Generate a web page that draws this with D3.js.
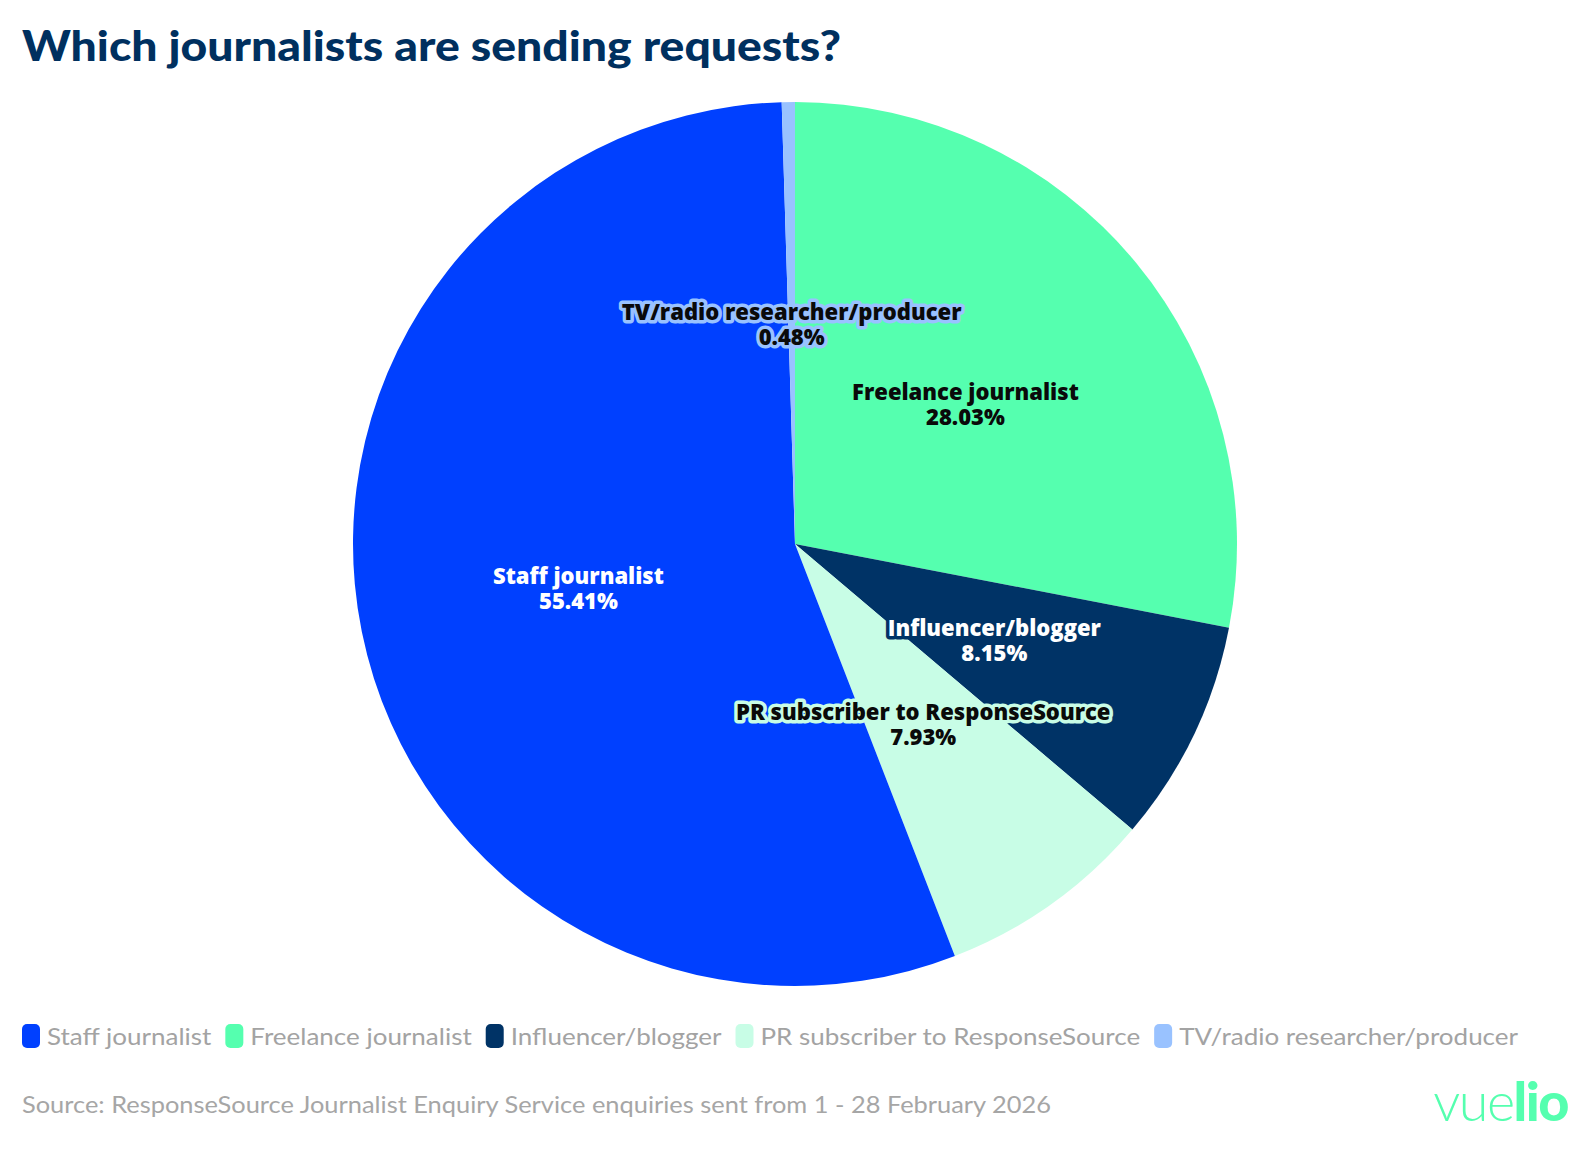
<!DOCTYPE html>
<html><head><meta charset="utf-8">
<script src="https://cdn.jsdelivr.net/npm/d3@7/dist/d3.min.js"></script>
<style>
html,body{margin:0;padding:0;background:#fff;}
svg{display:block;}
</style></head>
<body>
<svg id="chart" width="1588" height="1150"></svg>
<script>
// ---- data (legend order) ----
const categories = ["Staff journalist", "Freelance journalist", "Influencer/blogger", "PR subscriber to ResponseSource", "TV/radio researcher/producer"];
const values = [55.41, 28.03, 8.15, 7.93, 0.48];
const colors = ["#0040ff", "#55ffaf", "#003366", "#c8fde6", "#99c2ff"];
const labelTextColors = ["#ffffff", "#0a0a0a", "#ffffff", "#0a0a0a", "#0a0a0a"];
// order in which slices go round clockwise from 12 o'clock
const pieOrder = [1, 2, 3, 0, 4];
const titleText = "Which journalists are sending requests?";
const sourceText = "Source: ResponseSource Journalist Enquiry Service enquiries sent from 1 - 28 February 2026";

const svg = d3.select("#chart");
const FONT = "Lato, 'Open Sans', sans-serif";
const LFONT = "'Open Sans', Lato, sans-serif";

// title
svg.append("text")
  .attr("x", 22).attr("y", 61)
  .attr("font-family", FONT).attr("font-weight", 900).attr("font-size", 42)
  .attr("fill", "#00305f")
  .attr("textLength", 819).attr("lengthAdjust", "spacingAndGlyphs")
  .text(titleText);

// pie
const cx = 795, cy = 544, R = 442;
const rows = pieOrder.map(i => ({name: categories[i], value: values[i], color: colors[i], tc: labelTextColors[i]}));
const pie = d3.pie().sort(null).value(d => d.value);
const arc = d3.arc().innerRadius(0).outerRadius(R);
const arcs = pie(rows);
const g = svg.append("g").attr("transform", `translate(${cx},${cy})`);
g.selectAll("path.slice").data(arcs).join("path")
  .attr("class", "slice")
  .attr("d", arc)
  .attr("fill", d => d.data.color);

const fmt = v => v.toFixed(2) + "%";
const lab = g.selectAll("g.lab").data(arcs).join("g")
  .attr("class", "lab")
  .attr("transform", d => `translate(${arc.centroid(d)})`);
const labelTexts = [];
lab.each(function(d) {
  const t = d3.select(this).append("text")
    .attr("text-anchor", "middle")
    .attr("font-family", LFONT).attr("font-weight", 800).attr("font-size", 20)
    .attr("fill", d.data.tc)
    .attr("stroke", d.data.color).attr("stroke-width", 7)
    .attr("stroke-linejoin", "round")
    .attr("paint-order", "stroke");
  t.append("tspan").attr("x", 0).attr("y", -12.5).attr("dominant-baseline", "central").text(d.data.name);
  t.append("tspan").attr("x", 0).attr("y", 12.5).attr("dominant-baseline", "central").text(fmt(d.data.value));
  labelTexts.push(t);
});
// fit label font so "Staff journalist" is ~171px wide
const staffT = labelTexts[pieOrder.indexOf(0)].select("tspan").node();
const sw = staffT.getComputedTextLength();
const lfs = Math.max(17, Math.min(23, 20 * 171 / sw));
labelTexts.forEach(t => t.attr("font-size", lfs));

// legend
const legY = 1036;
const legend = svg.append("g");
const items = legend.selectAll("g.item").data(categories.map((c, i) => ({name: c, color: colors[i]}))).join("g").attr("class", "item");
items.append("rect").attr("width", 18).attr("height", 24).attr("rx", 5).attr("y", legY - 12).attr("fill", d => d.color);
const legTexts = items.append("text")
  .attr("x", 25).attr("y", legY).attr("dominant-baseline", "central")
  .attr("font-family", FONT).attr("font-size", 23).attr("fill", "#a3a3a3")
  .text(d => d.name);
// fit legend to span 22..1518
const widths = [];
legTexts.each(function() { widths.push(this.getComputedTextLength()); });
const swW = 25, gap = 14, target = 1518 - 22;
const natural = d3.sum(widths);
const fixed = categories.length * swW + (categories.length - 1) * gap;
const k = (target - fixed) / natural;
let xPos = 22;
items.each(function(d, i) {
  const w = widths[i] * k;
  d3.select(this).attr("transform", `translate(${xPos},0)`)
    .select("text").attr("textLength", w).attr("lengthAdjust", "spacingAndGlyphs");
  xPos += swW + w + gap;
});

// source
svg.append("text")
  .attr("x", 22).attr("y", 1104).attr("dominant-baseline", "central")
  .attr("font-family", FONT).attr("font-size", 23).attr("fill", "#a6a6a6")
  .attr("textLength", 1029).attr("lengthAdjust", "spacingAndGlyphs")
  .text(sourceText);

// logo
const logo = svg.append("text")
  .attr("x", 1568).attr("y", 1121).attr("text-anchor", "end")
  .attr("font-family", FONT).attr("font-size", 54).attr("fill", "#55ffaf")
  .attr("letter-spacing", -1.5);
logo.append("tspan").attr("font-weight", 300).text("vue");
logo.append("tspan").attr("font-weight", 900).text("lio");
</script>
</body></html>
